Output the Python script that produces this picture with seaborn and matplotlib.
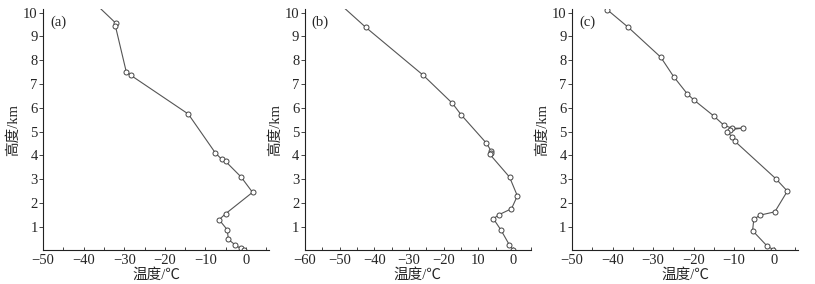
import numpy as np
import pandas as pd
import matplotlib
matplotlib.use('Agg')
import matplotlib.pyplot as plt
from matplotlib.ticker import MultipleLocator
import seaborn as sns

sns.set_style('ticks')
plt.rcParams['font.family'] = ['Liberation Serif', 'Noto Sans CJK SC', 'DejaVu Sans']
plt.rcParams['axes.unicode_minus'] = True

# panel (a) sounding
temp_a = [-38.5, -32.1, -32.2, -29.5, -28.4, -14.2, -7.5, -5.9, -5.0, -1.2, 1.65,
          -5.0, -6.6, -4.6, -4.3, -2.7, -1.3, -0.4]
hgt_a = [10.6, 9.56, 9.45, 7.51, 7.37, 5.74, 4.10, 3.83, 3.75, 3.10, 2.45,
         1.55, 1.30, 0.88, 0.47, 0.25, 0.09, 0.03]

# panel (b) sounding
temp_b = [-49.8, -42.5, -25.9, -17.5, -15.0, -7.8, -6.3, -6.5, -6.8, -1.05, 1.2,
          -0.5, -4.1, -5.7, -3.5, -1.1, 0.0]
hgt_b = [10.35, 9.39, 7.37, 6.19, 5.71, 4.53, 4.18, 4.10, 4.06, 3.09, 2.30,
         1.76, 1.51, 1.34, 0.86, 0.24, 0.04]

# panel (c) sounding
temp_c = [-41.3, -36.1, -28.1, -24.9, -21.5, -19.9, -15.0, -12.5, -10.4, -7.7,
          -11.0, -11.6, -10.4, -9.8, 0.3, 3.2, 0.1, -3.6, -5.1, -5.4, -1.9, -0.3]
hgt_c = [10.12, 9.38, 8.13, 7.31, 6.58, 6.33, 5.66, 5.27, 5.14, 5.15,
         5.08, 5.00, 4.76, 4.60, 3.03, 2.50, 1.63, 1.49, 1.31, 0.84, 0.21, 0.04]

panels = [
    ('(a)', temp_a, hgt_a, (-50, 5.7), [-50, -40, -30, -20, -10, 0],
     ['\u221250', '\u221240', '\u221230', '\u221220', '\u221210', '0']),
    ('(b)', temp_b, hgt_b, (-60, 5.0), [-60, -50, -40, -30, -20, -10, 0],
     ['\u221260', '\u221250', '\u221240', '\u221230', '\u221220', '10', '0']),
    ('(c)', temp_c, hgt_c, (-50, 5.8), [-50, -40, -30, -20, -10, 0],
     ['\u221250', '\u221240', '\u221230', '\u221220', '\u221210', '0']),
]

fig = plt.figure(figsize=(8.15, 2.84), dpi=100)
lefts = [0.053, 0.374, 0.702]
for left, (tag, t, h, xl, xt, xtl) in zip(lefts, panels):
    ax = fig.add_axes([left, 0.120, 0.277, 0.848])
    df = pd.DataFrame({'T': t, 'H': h})
    sns.lineplot(data=df, x='T', y='H', sort=False, estimator=None, ax=ax,
                 color='#555555', linewidth=0.8, marker='o', markersize=3.6,
                 markerfacecolor='white', markeredgecolor='#444444',
                 markeredgewidth=0.7)
    ax.set_xlim(*xl)
    ax.set_ylim(0.03, 10.15)
    ax.set_xticks(xt)
    ax.set_xticklabels(xtl)
    ax.xaxis.set_minor_locator(MultipleLocator(5))
    ax.set_yticks(range(1, 11))
    ax.tick_params(axis='x', which='both', direction='in', length=2.5, width=0.6,
                   labelsize=10.5, pad=3)
    ax.tick_params(axis='y', direction='out', length=3, width=0.6,
                   labelsize=10.5, pad=1)
    sns.despine(ax=ax)
    for s in ['left', 'bottom']:
        ax.spines[s].set_linewidth(0.8)
        ax.spines[s].set_color('#222222')
    ax.set_xlabel('温度/℃', fontsize=10.5, labelpad=1)
    ax.set_ylabel('高度/km', fontsize=10.5, labelpad=2)
    ax.text(0.03, 0.975, tag, transform=ax.transAxes, fontsize=10.5,
            va='top', ha='left')

fig.savefig('out.png', dpi=100)
